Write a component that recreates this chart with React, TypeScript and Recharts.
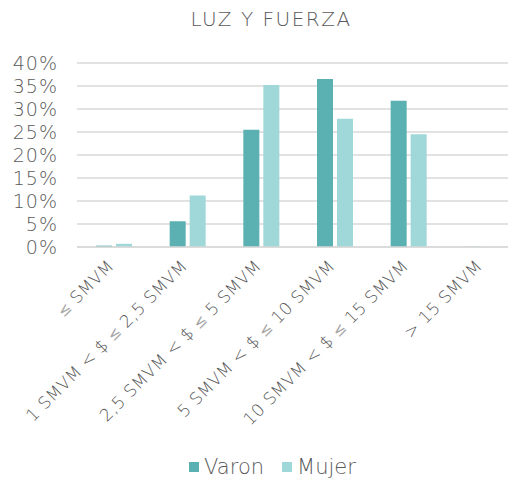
import React from "react";
import { BarChart, Bar, XAxis, YAxis, CartesianGrid, Legend } from "recharts";

const categories = [
  "≤ SMVM",
  "1 SMVM < $ ≤ 2,5 SMVM",
  "2,5 SMVM < $ ≤ 5 SMVM",
  "5 SMVM < $ ≤ 10 SMVM",
  "10 SMVM < $ ≤ 15 SMVM",
  "> 15 SMVM",
];
const varon = [0.003, 0.056, 0.255, 0.365, 0.318, 0.0005];
const mujer = [0.007, 0.112, 0.352, 0.279, 0.245, 0];
const yTicks = [0, 0.05, 0.1, 0.15, 0.2, 0.25, 0.3, 0.35, 0.4];
const seriesNames = ["Varon", "Mujer"];
const colors = ["#5BB0B1", "#A0D7D8"];

const data = categories.map((c, i) => ({ name: c, Varon: varon[i], Mujer: mujer[i] }));

const FONT = "'DejaVu Sans', sans-serif";
const TEXT = "#595959";

const XTick = (props: any) => {
  const { x, y, payload } = props;
  const px = x - 8;
  const py = y + 3;
  const parts = String(payload.value).split("≤");
  return (
    <text
      x={px}
      y={py}
      transform={`rotate(-45, ${px}, ${py})`}
      textAnchor="end"
      dy="0.75em"
      fill={TEXT}
      fontSize={17}
      fontWeight={200}
      letterSpacing={0.4}
      fontFamily={FONT}
    >
      {parts.map((p, i) => (
        <React.Fragment key={i}>
          {i > 0 && (
            <tspan fontWeight={400} fill="#A6A6A6" fontSize={15}>
              ≤
            </tspan>
          )}
          <tspan>{p}</tspan>
        </React.Fragment>
      ))}
    </text>
  );
};

const LegendContent = () => (
  <div style={{ display: "flex", justifyContent: "center", alignItems: "center", fontFamily: FONT, fontWeight: 200, fontSize: 21, color: TEXT, paddingLeft: 26 }}>
    {seriesNames.map((n, i) => (
      <div key={n} style={{ display: "flex", alignItems: "center", marginRight: i === 0 ? 18 : 0 }}>
        <div style={{ width: 10, height: 10, background: colors[i], marginRight: 5 }} />
        <span>{n}</span>
      </div>
    ))}
  </div>
);

export default function App() {
  return (
    <div style={{ position: "absolute", left: 0, top: 0, width: 508, height: 487, background: "#fff", overflow: "hidden" }}>
      <div
        style={{
          position: "absolute",
          top: 7,
          left: 0,
          width: 542,
          textAlign: "center",
          fontFamily: FONT,
          fontWeight: 200,
          fontSize: 20,
          color: TEXT,
          letterSpacing: 1.5,
        }}
      >
        LUZ Y FUERZA
      </div>
      <BarChart
        width={519}
        height={487}
        data={data}
        margin={{ top: 63, right: 0, bottom: 2, left: 0 }}
        barGap={4}
        barSize={16}
      >
        <CartesianGrid vertical={false} stroke="#D9D9D9" strokeWidth={1.5} />
        <XAxis
          dataKey="name"
          interval={0}
          tickLine={false}
          axisLine={{ stroke: "#D9D9D9", strokeWidth: 1.5 }}
          height={208}
          tick={<XTick />}
        />
        <YAxis
          width={77}
          domain={[0, 0.4]}
          ticks={yTicks}
          interval={0}
          tickLine={false}
          axisLine={false}
          tickMargin={13}
          tickFormatter={(v: number) => `${Math.round(v * 100)}%`}
          tick={{ fill: TEXT, fontSize: 19, fontFamily: FONT, fontWeight: 200, letterSpacing: 1 }}
        />
        <Legend verticalAlign="bottom" height={30} content={<LegendContent />} />
        <Bar dataKey="Varon" fill={colors[0]} isAnimationActive={false} />
        <Bar dataKey="Mujer" fill={colors[1]} isAnimationActive={false} />
      </BarChart>
    </div>
  );
}
